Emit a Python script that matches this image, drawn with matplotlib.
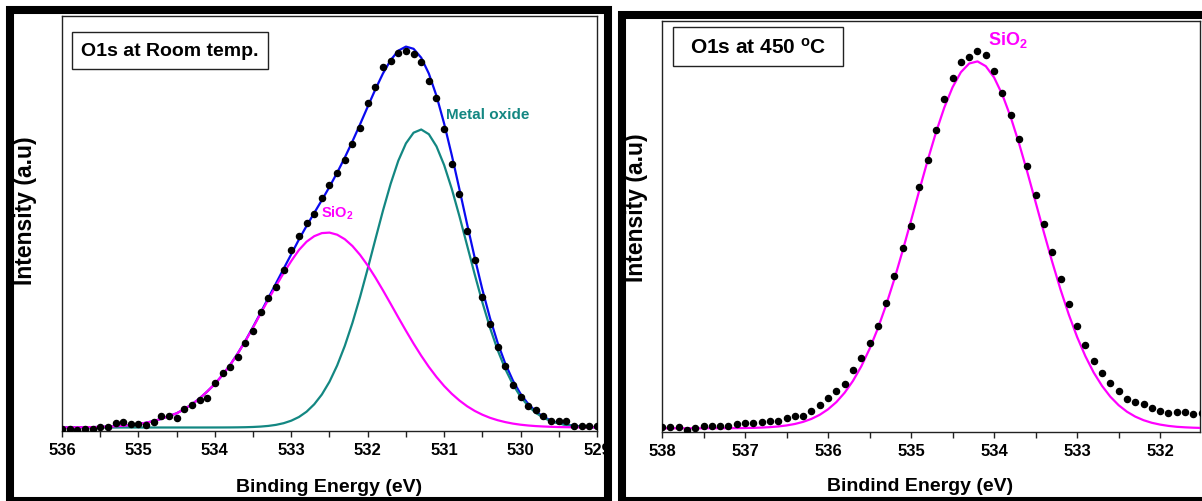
import numpy as np
import matplotlib
matplotlib.use("Agg")
import matplotlib.pyplot as plt
from matplotlib.patches import Rectangle
from matplotlib.ticker import MultipleLocator, FormatStrFormatter

plt.rcParams['font.family'] = ['Liberation Sans', 'DejaVu Sans']
plt.rcParams['font.weight'] = 'bold'
plt.rcParams['mathtext.fontset'] = 'custom'
plt.rcParams['mathtext.rm'] = 'Liberation Sans'
plt.rcParams['mathtext.bf'] = 'Liberation Sans:bold'
plt.rcParams['mathtext.it'] = 'Liberation Sans:italic'

# ---- O1s spectrum at room temperature (binding energy in eV, intensity in a.u.) ----
energy_rt = [536.0, 535.9, 535.8, 535.7, 535.6, 535.5, 535.4, 535.3, 535.2, 535.1,
             535.0, 534.9, 534.8, 534.7, 534.6, 534.5, 534.4, 534.3, 534.2, 534.1,
             534.0, 533.9, 533.8, 533.7, 533.6, 533.5, 533.4, 533.3, 533.2, 533.1,
             533.0, 532.9, 532.8, 532.7, 532.6, 532.5, 532.4, 532.3, 532.2, 532.1,
             532.0, 531.9, 531.8, 531.7, 531.6, 531.5, 531.4, 531.3, 531.2, 531.1,
             531.0, 530.9, 530.8, 530.7, 530.6, 530.5, 530.4, 530.3, 530.2, 530.1,
             530.0, 529.9, 529.8, 529.7, 529.6, 529.5, 529.4, 529.3, 529.2, 529.1,
             529.0]
counts_rt = [-1.5, -1.5, -2.0, -1.5, -1.5, 0.2, 0.8, 4.5, 5.5, 3.5,
             3.5, 3.0, 5.2, 11.2, 11.5, 9.8, 18.5, 22.8, 27.5, 29.2,
             44.2, 54.5, 60.2, 70.5, 84.2, 97.0, 115.2, 129.2, 140.2, 157.8,
             177.8, 191.6, 204.5, 214.0, 229.8, 242.5, 254.5, 267.8, 283.5, 299.8,
             324.5, 340.8, 360.2, 366.8, 374.5, 376.2, 373.5, 365.5, 346.8, 329.3,
             298.5, 263.8, 233.8, 196.8, 167.8, 130.8, 103.8, 80.2, 61.2, 42.5,
             30.2, 21.2, 17.5, 11.8, 6.8, 6.8, 6.8, 1.2, 1.2, 1.2,
             1.2]
sio2_rt = [0.07, 0.11, 0.17, 0.26, 0.39, 0.58, 0.85, 1.23, 1.76, 2.48,
           3.47, 4.77, 6.48, 8.69, 11.5, 14.2, 18.3, 23.2, 29.0, 36.0,
           43.5, 52.5, 62.5, 74.0, 86.5, 100.0, 114.0, 128.0, 141.5, 154.5,
           166.5, 177.5, 185.8, 191.3, 194.4, 194.9, 192.8, 188.3, 181.5, 172.6,
           162.0, 150.0, 137.1, 123.7, 110.1, 96.8, 83.9, 71.8, 60.6, 50.5,
           41.5, 33.7, 27.0, 21.3, 16.6, 12.8, 9.7, 7.3, 5.4, 3.9,
           2.8, 2.0, 1.4, 1.0, 0.7, 0.45, 0.3, 0.2, 0.13, 0.08,
           0.05]
oxide_rt = [0.0, 0.0, 0.0, 0.0, 0.0, 0.0, 0.0, 0.0, 0.0, 0.0,
            0.0, 0.0, 0.0, 0.0, 0.0, 0.0, 0.0, 0.0, 0.0, 0.01,
            0.02, 0.04, 0.08, 0.16, 0.29, 0.53, 0.93, 1.59, 2.65, 4.31,
            6.83, 10.5, 15.8, 23.2, 33.0, 45.8, 62.0, 81.6, 104.6, 130.6,
            158.8, 188.1, 217.0, 243.7, 266.7, 284.1, 294.8, 298.0, 293.3, 281.1,
            262.4, 238.6, 211.3, 182.2, 153.1, 125.2, 99.7, 77.4, 58.5, 43.0,
            30.8, 21.5, 14.6, 9.7, 6.2, 3.9, 2.4, 1.4, 0.83, 0.47,
            0.26]

# ---- O1s spectrum after annealing at 450 C ----
energy_450 = [538.0, 537.9, 537.8, 537.7, 537.6, 537.5, 537.4, 537.3, 537.2, 537.1,
              537.0, 536.9, 536.8, 536.7, 536.6, 536.5, 536.4, 536.3, 536.2, 536.1,
              536.0, 535.9, 535.8, 535.7, 535.6, 535.5, 535.4, 535.3, 535.2, 535.1,
              535.0, 534.9, 534.8, 534.7, 534.6, 534.5, 534.4, 534.3, 534.2, 534.1,
              534.0, 533.9, 533.8, 533.7, 533.6, 533.5, 533.4, 533.3, 533.2, 533.1,
              533.0, 532.9, 532.8, 532.7, 532.6, 532.5, 532.4, 532.3, 532.2, 532.1,
              532.0, 531.9, 531.8, 531.7, 531.6, 531.5]
counts_450 = [1.0, 1.0, 1.6, -1.4, 0.0, 2.0, 2.0, 2.6, 2.6, 4.3,
              5.0, 5.0, 6.0, 7.0, 7.0, 10.0, 12.6, 12.6, 17.6, 23.3,
              30.3, 37.6, 44.3, 58.3, 70.3, 85.3, 102.0, 125.0, 152.6, 180.6,
              202.0, 241.0, 268.3, 298.0, 329.3, 350.6, 366.0, 371.0, 377.0, 373.6,
              357.0, 335.0, 313.0, 289.0, 262.0, 233.0, 204.0, 176.0, 149.0, 124.0,
              102.0, 83.0, 67.0, 55.0, 45.3, 37.6, 29.3, 26.6, 24.3, 20.0,
              17.6, 15.3, 16.0, 16.0, 14.3, 15.0]
sio2_450 = [0.0, 0.0, 0.0, 0.0, 0.01, 0.01, 0.03, 0.05, 0.09, 0.16,
            0.27, 0.45, 0.73, 1.17, 1.84, 2.85, 4.32, 6.44, 9.41, 13.5,
            19.0, 26.2, 35.6, 47.4, 61.9, 79.4, 99.9, 123.4, 149.5, 178.0,
            207.8, 238.2, 268.0, 295.9, 320.7, 341.1, 356.1, 364.8, 366.9, 362.1,
            350.8, 333.5, 311.2, 285.0, 256.2, 226.1, 195.8, 166.4, 138.8, 113.7,
            91.3, 72.0, 55.7, 42.4, 31.6, 23.1, 16.6, 11.7, 8.1, 5.5,
            3.7, 2.4, 1.5, 0.97, 0.60, 0.36]

# fit envelope = sum of the two components
envelope_rt = np.array(sio2_rt) + np.array(oxide_rt)

BLUE = '#0a0af0'
TEAL = '#138782'
MAGENTA = '#ff00ff'

W, H = 1202, 502
fig = plt.figure(figsize=(W / 100, H / 100), dpi=100)
fig.patch.set_facecolor('white')


def axes_px(x0, y0, x1, y1):
    return fig.add_axes([x0 / W, 1 - y1 / H, (x1 - x0) / W, (y1 - y0) / H])


def style(ax):
    for s in ax.spines.values():
        s.set_linewidth(1.0)
        s.set_color('#222222')
    ax.xaxis.set_major_locator(MultipleLocator(1))
    ax.xaxis.set_minor_locator(MultipleLocator(0.5))
    ax.xaxis.set_major_formatter(FormatStrFormatter('%d'))
    ax.tick_params(axis='x', which='both', direction='out', length=4, width=1,
                   top=False, labelsize=12, pad=4, colors='#222222',
                   labelcolor='black')
    ax.tick_params(axis='y', which='both', left=False, right=False,
                   labelleft=False)
    for lab in ax.get_xticklabels():
        lab.set_fontweight('bold')


# ---- left panel ----
ax1 = axes_px(62, 17, 597, 432)
ax1.plot(energy_rt, envelope_rt, color=BLUE, lw=1.6, zorder=2)
ax1.plot(energy_rt, oxide_rt, color=TEAL, lw=1.6, zorder=3)
ax1.plot(energy_rt, sio2_rt, color=MAGENTA, lw=1.6, zorder=3)
ax1.plot(energy_rt, counts_rt, 'o', ms=4.4, color='black', mec='black', zorder=4)
ax1.set_xlim(536, 529)
ax1.set_ylim(-3.5, 411.5)
style(ax1)
ax1.set_xlabel('Binding Energy (eV)', fontsize=14, fontweight='bold')
ax1.xaxis.set_label_coords(0.5, -0.133)
ax1.xaxis.label.set_va('center')
ax1.set_ylabel('Intensity (a.u)', fontsize=16.5, fontweight='bold')
ax1.yaxis.set_label_coords(-0.069, 0.533)
ax1.yaxis.label.set_va('center')
ax1.add_patch(Rectangle((0.0187, 0.872), 0.366, 0.089, transform=ax1.transAxes,
                        fill=True, fc='white', ec='#222222', lw=1.0, zorder=5))
ax1.text(0.202, 0.917, 'O1s at Room temp.', transform=ax1.transAxes,
         fontsize=14, fontweight='bold', ha='center', va='center', zorder=6)
ax1.text(530.43, 313.5, 'Metal oxide', color=TEAL, fontsize=11,
         fontweight='bold', ha='center', va='center')
ax1.text(532.40, 215.5, r'SiO$_\mathbf{2}$', color=MAGENTA, fontsize=10.5,
         fontweight='bold', ha='center', va='center')

# ---- right panel ----
ax2 = axes_px(662, 22, 1200, 433)
ax2.plot(energy_450, sio2_450, color=MAGENTA, lw=1.6, zorder=3)
ax2.plot(energy_450, counts_450, 'o', ms=4.4, color='black', mec='black', zorder=4)
ax2.set_xlim(538, 531.52)
ax2.set_ylim(-3.7, 407.3)
style(ax2)
ax2.set_xlabel('Bindind Energy (eV)', fontsize=14, fontweight='bold')
ax2.xaxis.set_label_coords(0.48, -0.131)
ax2.xaxis.label.set_va('center')
ax2.set_ylabel('Intensity (a.u)', fontsize=16.5, fontweight='bold')
ax2.yaxis.set_label_coords(-0.048, 0.547)
ax2.yaxis.label.set_va('center')
ax2.add_patch(Rectangle((0.0204, 0.8905), 0.3156, 0.0945, transform=ax2.transAxes,
                        fill=True, fc='white', ec='#222222', lw=1.0, zorder=5))
ax2.text(0.178, 0.938, r'O1s at 450 $^{\mathbf{o}}$C', transform=ax2.transAxes,
         fontsize=15, fontweight='bold', ha='center', va='center', zorder=6)
ax2.text(533.83, 389, r'SiO$_\mathbf{2}$', color=MAGENTA, fontsize=13,
         fontweight='bold', ha='center', va='center')

# ---- thick panel frames ----
fig.add_artist(Rectangle((10.5 / W, 1 - 501.5 / H), (608 - 10.5) / W, (501.5 - 10.5) / H,
                         transform=fig.transFigure, fill=False, ec='black',
                         lw=5.8, zorder=10))
fig.add_artist(Rectangle((622 / W, 1 - 501.5 / H), (1215 - 622) / W, (501.5 - 16) / H,
                         transform=fig.transFigure, fill=False, ec='black',
                         lw=5.8, zorder=10))

fig.savefig('out.png', dpi=100, facecolor='white')
